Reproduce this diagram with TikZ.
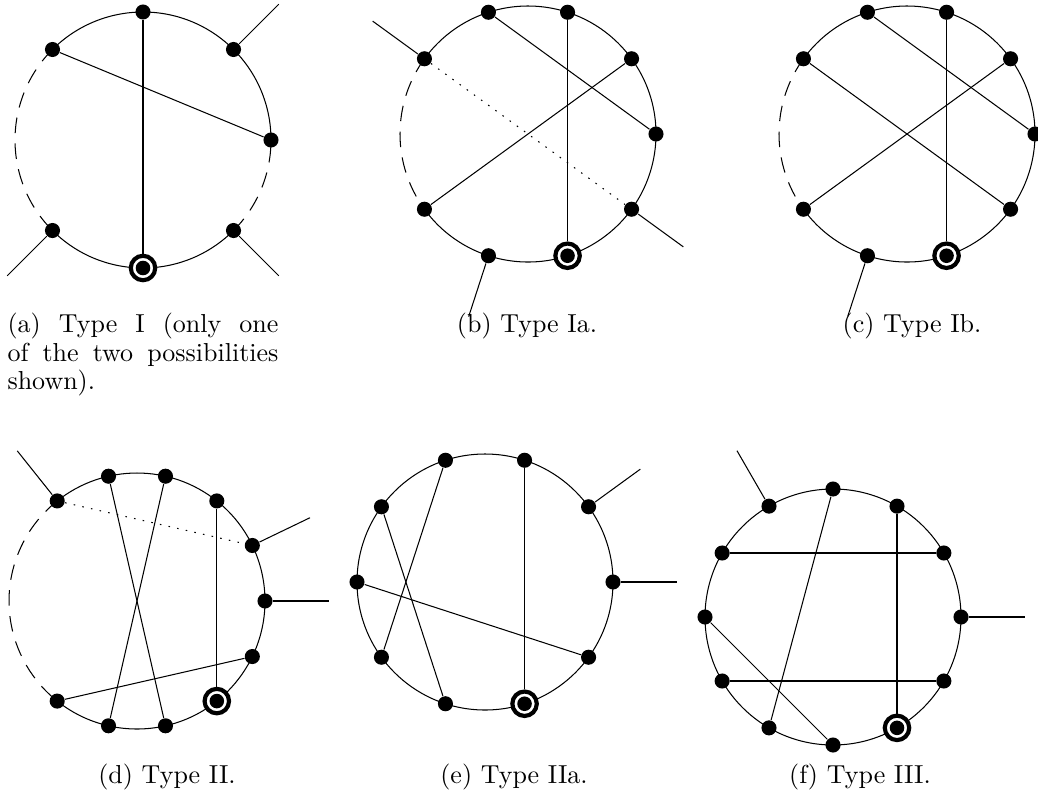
\documentclass[tikz,border=0pt]{standalone}
\usetikzlibrary{calc}
\tikzset{
  vtx/.style={circle, fill, inner sep=0pt, minimum size=5.8pt},
  root/.style={circle, draw, line width=1.6pt, fill=white, inner sep=0pt, minimum size=9.4pt,
    path picture={\fill[black] (path picture bounding box.center) circle[radius=2.8pt];}},
  gap/.style={dash pattern=on 6pt off 4pt},
  ghost/.style={dash pattern=on 0.6pt off 2.8pt},
  caption/.style={anchor=base, inner sep=0pt}
}

\begin{document}
\begin{tikzpicture}[x=0.3846pt, y=0.3846pt]
    \useasboundingbox (0,0) rectangle (1038,799);

    % (a) type I
    \begin{scope}[shift={(143,659)}]
        \draw (0:128) arc[start angle=0, end angle=135, radius=128];
        \draw (225:128) arc[start angle=225, end angle=315, radius=128];
        \draw[gap] (135:128) arc[start angle=135, end angle=225, radius=128];
        \draw[gap] (315:128) arc[start angle=315, end angle=360, radius=128];
        \node[vtx] (a1) at (90:128) {};
        \node[vtx] (a2) at (45:128) {};
        \node[vtx] (a3) at (0:128) {};
        \node[vtx] (a4) at (315:128) {};
        \node[root] (a5) at (270:128) {};
        \node[vtx] (a6) at (225:128) {};
        \node[vtx] (a7) at (135:128) {};
        \coordinate (a2o) at (45:192);
        \coordinate (a4o) at (315:192);
        \coordinate (a6o) at (225:192);
    \end{scope}
    \draw (a1) -- (a5);
    \draw (a7) -- (a3);
    \draw (a2) -- (a2o);
    \draw (a4) -- (a4o);
    \draw (a6) -- (a6o);

    % (b) type Ia
    \begin{scope}[shift={(528,665)}]
        \draw (-144:128) arc[start angle=-144, end angle=144, radius=128];
        \draw[gap] (144:128) arc[start angle=144, end angle=216, radius=128];
        \node[vtx] (b1) at (108:128) {};
        \node[vtx] (b2) at (72:128) {};
        \node[vtx] (b3) at (36:128) {};
        \node[vtx] (b4) at (0:128) {};
        \node[vtx] (b5) at (-36:128) {};
        \node[root] (b6) at (-72:128) {};
        \node[vtx] (b7) at (-108:128) {};
        \node[vtx] (b8) at (216:128) {};
        \node[vtx] (b9) at (144:128) {};
        \coordinate (b9o) at (144:192);
        \coordinate (b5o) at (-36:192);
        \coordinate (b7o) at (-108:192);
    \end{scope}
    \draw (b1) -- (b4);
    \draw (b2) -- (b6);
    \draw (b3) -- (b8);
    \draw[ghost] (b9) -- (b5);
    \draw (b9) -- (b9o);
    \draw (b5) -- (b5o);
    \draw (b7) -- (b7o);

    % (c) type Ib
    \begin{scope}[shift={(907,665)}]
        \draw (-144:128) arc[start angle=-144, end angle=144, radius=128];
        \draw[gap] (144:128) arc[start angle=144, end angle=216, radius=128];
        \node[vtx] (c1) at (108:128) {};
        \node[vtx] (c2) at (72:128) {};
        \node[vtx] (c3) at (36:128) {};
        \node[vtx] (c4) at (0:128) {};
        \node[vtx] (c5) at (-36:128) {};
        \node[root] (c6) at (-72:128) {};
        \node[vtx] (c7) at (-108:128) {};
        \node[vtx] (c8) at (216:128) {};
        \node[vtx] (c9) at (144:128) {};
        \coordinate (c7o) at (-108:192);
    \end{scope}
    \draw (c1) -- (c4);
    \draw (c2) -- (c6);
    \draw (c3) -- (c8);
    \draw (c9) -- (c5);
    \draw (c7) -- (c7o);

    % (d) type II
    \begin{scope}[shift={(137,198)}]
        \draw (-128.57:128) arc[start angle=-128.57, end angle=128.57, radius=128];
        \draw[gap] (128.57:128) arc[start angle=128.57, end angle=231.43, radius=128];
        \node[vtx] (d1) at (0:128) {};
        \node[vtx] (d2) at (25.71:128) {};
        \node[vtx] (d3) at (51.43:128) {};
        \node[vtx] (d4) at (77.14:128) {};
        \node[vtx] (d5) at (102.86:128) {};
        \node[vtx] (d6) at (128.57:128) {};
        \node[vtx] (d7) at (231.43:128) {};
        \node[vtx] (d8) at (257.14:128) {};
        \node[vtx] (d9) at (282.86:128) {};
        \node[root] (d10) at (308.57:128) {};
        \node[vtx] (d11) at (334.29:128) {};
        \coordinate (d6o) at (128.57:192);
        \coordinate (d2o) at (25.71:192);
        \coordinate (d1o) at (0:192);
    \end{scope}
    \draw (d5) -- (d9);
    \draw (d4) -- (d8);
    \draw (d3) -- (d10);
    \draw (d11) -- (d7);
    \draw[ghost] (d6) -- (d2);
    \draw (d6) -- (d6o);
    \draw (d2) -- (d2o);
    \draw (d1) -- (d1o);

    % (e) type IIa
    \begin{scope}[shift={(485,217)}]
        \draw (0,0) circle[radius=128];
        \node[vtx] (e1) at (108:128) {};
        \node[vtx] (e2) at (72:128) {};
        \node[vtx] (e3) at (36:128) {};
        \node[vtx] (e4) at (0:128) {};
        \node[vtx] (e5) at (-36:128) {};
        \node[root] (e6) at (-72:128) {};
        \node[vtx] (e7) at (-108:128) {};
        \node[vtx] (e8) at (216:128) {};
        \node[vtx] (e9) at (180:128) {};
        \node[vtx] (e10) at (144:128) {};
        \coordinate (e3o) at (36:192);
        \coordinate (e4o) at (0:192);
    \end{scope}
    \draw (e10) -- (e7);
    \draw (e1) -- (e8);
    \draw (e9) -- (e5);
    \draw (e2) -- (e6);
    \draw (e3) -- (e3o);
    \draw (e4) -- (e4o);

    % (f) type III
    \begin{scope}[shift={(833,182)}]
        \draw (0,0) circle[radius=128];
        \node[vtx] (f1) at (90:128) {};
        \node[vtx] (f2) at (60:128) {};
        \node[vtx] (f3) at (30:128) {};
        \node[vtx] (f4) at (0:128) {};
        \node[vtx] (f5) at (-30:128) {};
        \node[root] (f6) at (-60:128) {};
        \node[vtx] (f7) at (-90:128) {};
        \node[vtx] (f8) at (-120:128) {};
        \node[vtx] (f9) at (-150:128) {};
        \node[vtx] (f10) at (180:128) {};
        \node[vtx] (f11) at (150:128) {};
        \node[vtx] (f12) at (120:128) {};
        \coordinate (f12o) at (120:192);
        \coordinate (f4o) at (0:192);
    \end{scope}
    \draw (f11) -- (f3);
    \draw (f9) -- (f5);
    \draw (f2) -- (f6);
    \draw (f1) -- (f8);
    \draw (f10) -- (f7);
    \draw (f12) -- (f12o);
    \draw (f4) -- (f4o);

    % captions
    \node[text width=104.2pt, align=justify, anchor=north west, inner sep=0pt,
          execute at begin node=\setlength{\baselineskip}{11pt}] (capa) at (7,486.5)
        {(a) Type I (only one\linebreak of the two possibilities\linebreak shown).};
    \node[caption] (capb) at (527,467) {(b) Type Ia.};
    \node[caption] (capc) at (912,467) {(c) Type Ib.};
    \node[caption] (capd) at (167,16) {(d) Type II.};
    \node[caption] (cape) at (514,16) {(e) Type IIa.};
    \node[caption] (capf) at (860,16) {(f) Type III.};
\end{tikzpicture}
\end{document}
